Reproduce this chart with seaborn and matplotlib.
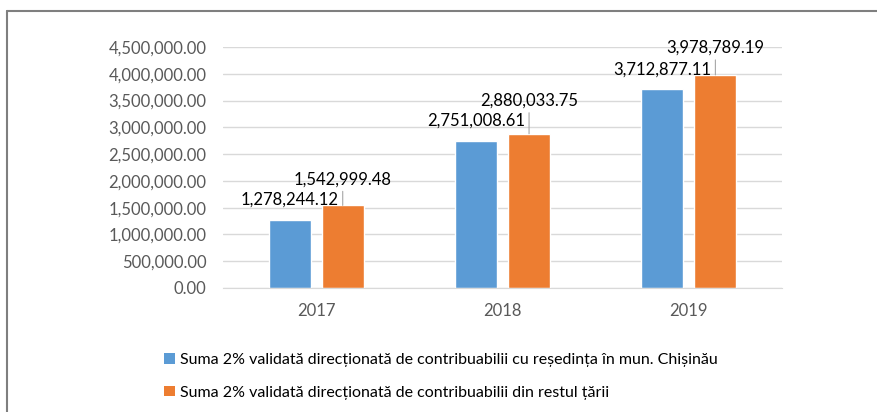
import matplotlib
matplotlib.use('Agg')
import matplotlib.pyplot as plt
import pandas as pd
import seaborn as sns
from matplotlib.lines import Line2D
from matplotlib.patches import Patch
from matplotlib.ticker import FuncFormatter, MultipleLocator

# Data
years = ['2017', '2018', '2019']
chisinau = [1278244.12, 2751008.61, 3712877.11]
rest_tara = [1542999.48, 2880033.75, 3978789.19]
series_names = [
    'Suma 2% validată direcționată de contribuabilii cu reședința în mun. Chișinău',
    'Suma 2% validată direcționată de contribuabilii din restul țării',
]

df = pd.DataFrame({
    'an': years * 2,
    'serie': [series_names[0]] * 3 + [series_names[1]] * 3,
    'suma': chisinau + rest_tara,
})

colors = ['#5B9BD5', '#ED7D31']

sns.set_style('white')
plt.rcParams['font.family'] = ['Lato', 'DejaVu Sans']

W, H = 878, 412
fig = plt.figure(figsize=(W / 100, H / 100), dpi=100)
ax = fig.add_axes([223 / W, 1 - 288 / H, (782 - 223) / W, (288 - 47) / H])

sns.barplot(data=df, x='an', y='suma', hue='serie', hue_order=series_names,
            palette=colors, width=0.57, gap=0.21, saturation=1, ax=ax, legend=False)

ax.set_ylim(0, 4500000)
ax.set_xlim(-0.5, 2.5)
ax.yaxis.set_major_locator(MultipleLocator(500000))
ax.yaxis.set_major_formatter(FuncFormatter(lambda v, p: f'{v:,.2f}'))
ax.grid(axis='y', color='#d9d9d9', lw=1)
ax.set_axisbelow(True)
for s in ['top', 'right', 'left']:
    ax.spines[s].set_visible(False)
ax.spines['bottom'].set_color('#d9d9d9')
ax.tick_params(axis='both', length=0, labelsize=12, colors='#595959')
ax.tick_params(axis='y', pad=12)
ax.tick_params(axis='x', pad=11)
ax.set_xlabel('')
ax.set_ylabel('')

# data labels (manually placed like in the original)
label_dy = [[20, 20, 20], [26, 33, 27]]
for i, cont in enumerate(ax.containers):
    for j, bar in enumerate(cont):
        x = bar.get_x() + bar.get_width() / 2
        v = bar.get_height()
        dy = label_dy[i][j]
        ax.annotate(f'{v:,.2f}', xy=(x, v), xytext=(0, dy), textcoords='offset pixels',
                    ha='center', va='center', fontsize=12, color='black',
                    annotation_clip=False)
        if i == 1:
            ax.annotate('', xy=(x, v), xytext=(0, dy - 12), textcoords='offset pixels',
                        arrowprops=dict(arrowstyle='-', color='#a6a6a6', lw=0.8,
                                        shrinkA=0, shrinkB=0),
                        annotation_clip=False)

handles = [Patch(facecolor=c, edgecolor='none') for c in colors]
fig.legend(handles, series_names, loc='upper left', bbox_to_anchor=(150 / W, 1 - 339 / H),
           frameon=False, fontsize=11.5, handlelength=0.65, handleheight=0.65,
           handletextpad=0.3, labelspacing=1.15, labelcolor='black')

# outer frame (left and top edges)
fig.add_artist(Line2D([7.5 / W, 7.5 / W], [0, 1 - 11 / H], color='#7f7f7f', lw=1.5,
                      transform=fig.transFigure))
fig.add_artist(Line2D([7.5 / W, 1], [1 - 11 / H, 1 - 11 / H], color='#7f7f7f', lw=1.5,
                      transform=fig.transFigure))

fig.savefig('out.png', dpi=100)
